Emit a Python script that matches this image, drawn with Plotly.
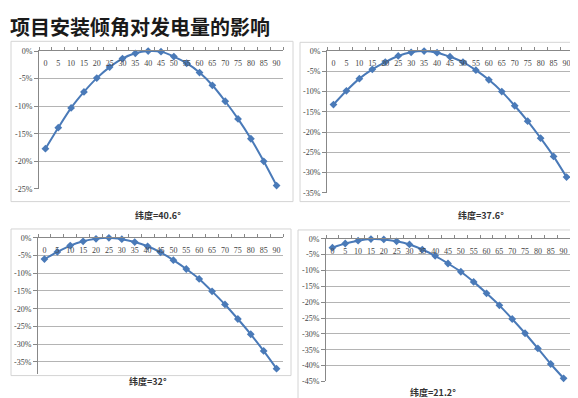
import plotly.graph_objects as go

W, H = 578, 398

angles = [str(a) for a in range(0, 95, 5)]
lat_40_6 = [-17.7, -13.9, -10.3, -7.4, -4.9, -2.9, -1.35, -0.4, 0.0, -0.1,
            -1.0, -2.2, -3.9, -6.2, -9.1, -12.3, -15.9, -20.0, -24.4]
lat_37_6 = [-13.2, -9.8, -6.8, -4.5, -2.7, -1.2, -0.3, 0.0, -0.4, -1.4,
            -2.7, -4.7, -7.1, -10.0, -13.5, -17.3, -21.5, -26.0, -31.1]
lat_32 = [-6.0, -4.0, -2.2, -1.0, -0.3, 0.0, -0.4, -1.2, -2.4, -4.1,
          -6.3, -8.8, -11.6, -15.1, -18.8, -22.9, -27.2, -31.9, -36.9]
lat_21_2 = [-2.8, -1.5, -0.6, -0.1, -0.2, -0.8, -1.8, -3.4, -5.4, -7.8,
            -10.4, -13.6, -17.2, -21.0, -25.3, -29.8, -34.6, -39.5, -44.0]

captions = ["纬度=40.6°", "纬度=37.6°", "纬度=32°", "纬度=21.2°"]
title_text = "项目安装倾角对发电量的影响"
ytick_vals = [0, -5, -10, -15, -20, -25, -30, -35, -40, -45]
ytick_text = ["0%", "-5%", "-10%", "-15%", "-20%", "-25%", "-30%", "-35%", "-40%", "-45%"]

series = [lat_40_6, lat_37_6, lat_32, lat_21_2]

panels = [
    dict(pa=(31, 275, 40, 181), ymin=-25, border=(3, 285, 30, 194), cap=(150, 208)),
    dict(pa=(319, 565, 40, 185), ymin=-35, border=(292, 572, 31, 194), cap=(473, 208)),
    dict(pa=(30, 275, 231, 370), ymin=-38.3, border=(3, 283, 222, 372), cap=(140, 378)),
    dict(pa=(318, 562, 232, 378), ymin=-45, border=(290, 571, 223, 400), cap=(425, 389)),
]

BLUE = "#4a7ab8"
GRID = "#b4b4b4"
TXT = "#444444"
TICKFONT = dict(family="Liberation Serif", size=8, color=TXT)

fig = go.Figure()
layout = dict(
    width=W, height=H, margin=dict(l=0, r=0, t=0, b=0),
    paper_bgcolor="white", plot_bgcolor="white", showlegend=False,
    shapes=[], annotations=[],
)

def px_x(x):
    return x / W

def px_y(y):
    return (H - y) / H

for i, (vals, p) in enumerate(zip(series, panels)):
    n = "" if i == 0 else str(i + 1)
    xa, ya = "x" + n, "y" + n
    fig.add_trace(go.Scatter(
        x=angles, y=vals, xaxis=xa, yaxis=ya, mode="lines+markers",
        line=dict(color=BLUE, width=2, shape="spline", smoothing=0.6),
        marker=dict(symbol="diamond", size=6, color=BLUE),
        cliponaxis=False,
    ))
    l, r, t, b = p["pa"]
    nt = [v for v in ytick_vals if v >= p["ymin"] - 0.01]
    tt = ytick_text[:len(nt)]
    layout["xaxis" + n] = dict(
        domain=[px_x(l), px_x(r)], anchor=ya, type="category", side="top",
        ticklabelposition="outside", ticklabelstandoff=-19, tickangle=0,
        tickson="boundaries", ticks="outside",
        ticklen=3, tickcolor="#888888", showline=True, linecolor="#888888",
        linewidth=1, showgrid=False, tickfont=TICKFONT, zeroline=False,
        range=[-0.5, 18.5], fixedrange=True,
    )
    layout["yaxis" + n] = dict(
        domain=[px_y(b), px_y(t)], anchor=xa, range=[p["ymin"], 0],
        tickvals=nt, ticktext=tt, ticks="outside", ticklen=4,
        tickcolor="#888888", showline=True, linecolor="#888888", linewidth=1,
        showgrid=True, gridcolor=GRID, gridwidth=1, zeroline=False,
        tickfont=TICKFONT, fixedrange=True,
    )
    bl, br, bt, bb = p["border"]
    layout["shapes"].append(dict(
        type="rect", xref="paper", yref="paper",
        x0=px_x(bl), x1=px_x(br), y0=px_y(bb), y1=px_y(bt),
        line=dict(color="#d4d4d4", width=1), layer="below",
    ))
    cx, cy = p["cap"]
    layout["annotations"].append(dict(
        text="<b>" + captions[i] + "</b>", xref="paper", yref="paper",
        x=px_x(cx), y=px_y(cy), xanchor="center", yanchor="middle",
        showarrow=False,
        font=dict(family="Noto Sans CJK SC", size=9, color="#333333"),
    ))

layout["annotations"].append(dict(
    text="<b>" + title_text + "</b>", xref="paper", yref="paper",
    x=0, y=px_y(15), xanchor="left", yanchor="middle", showarrow=False,
    font=dict(family="Noto Sans CJK SC", size=20, color="#1a1a1a"),
))

fig.update_layout(**layout)
fig.write_html("out.html", config=dict(displayModeBar=False))
